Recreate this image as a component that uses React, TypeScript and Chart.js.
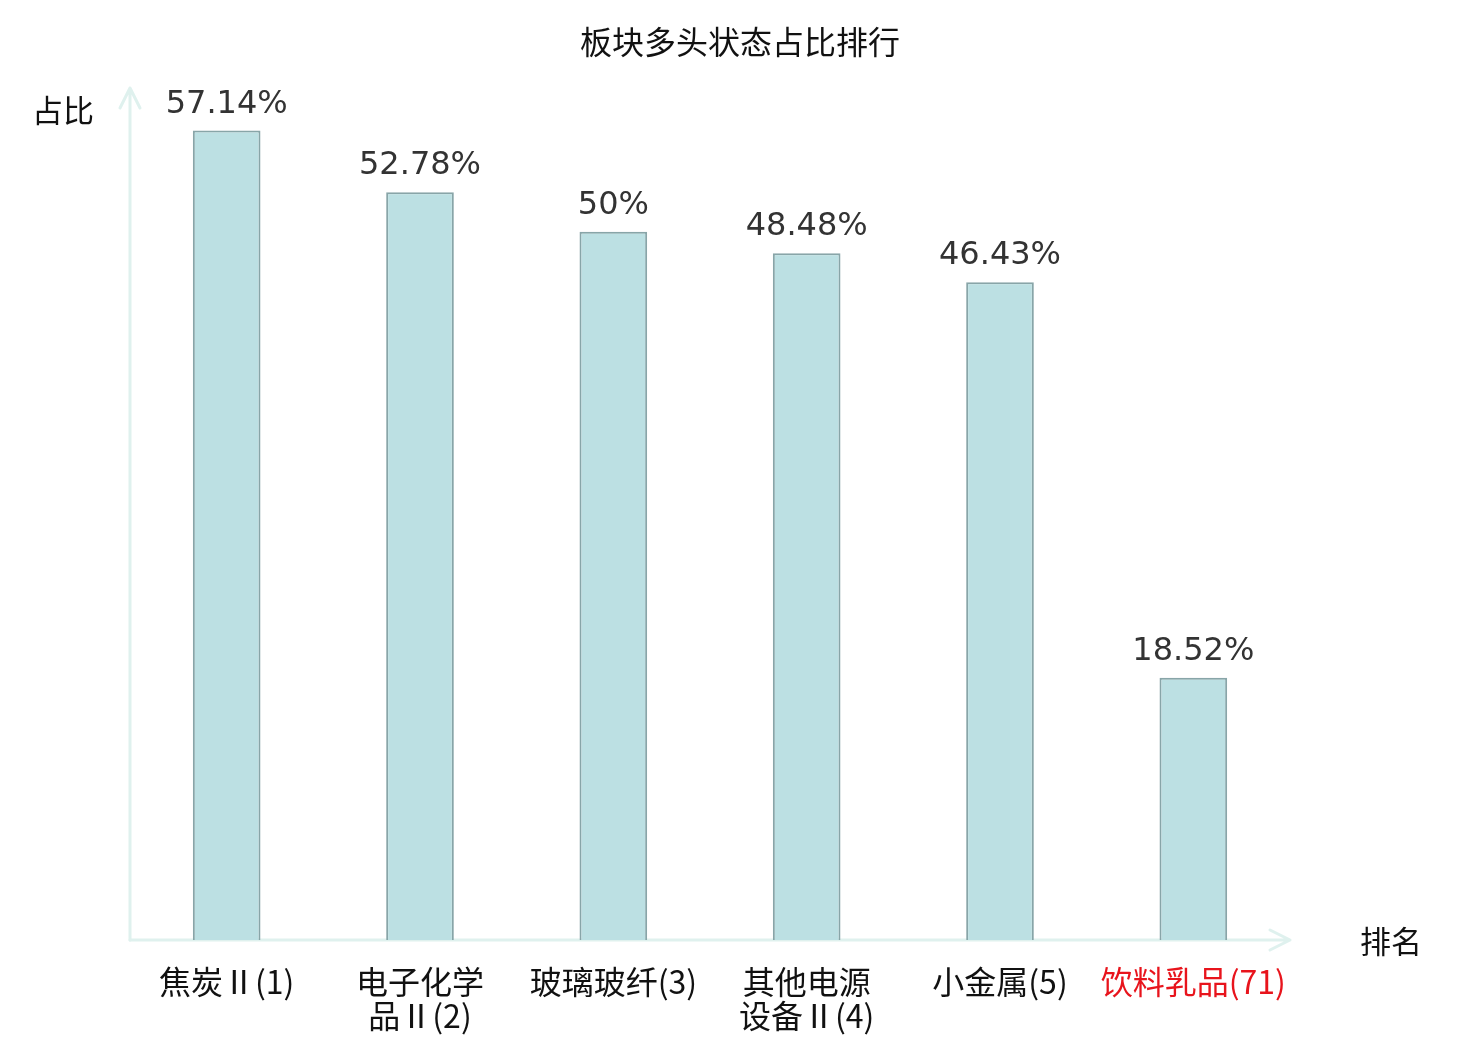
import React, { useEffect, useRef } from 'react';
import { Chart, registerables } from 'chart.js';

Chart.register(...registerables);

const categories: (string | string[])[] = [
  '焦炭Ⅱ(1)',
  ['电子化学', '品Ⅱ(2)'],
  '玻璃玻纤(3)',
  ['其他电源', '设备Ⅱ(4)'],
  '小金属(5)',
  '饮料乳品(71)',
];
const shares = [57.14, 52.78, 50, 48.48, 46.43, 18.52];
const highlighted = [false, false, false, false, false, true];

const TITLE = '板块多头状态占比排行';
const Y_NAME = '占比';
const X_NAME = '排名';

const AXIS_COLOR = '#dff1ee';
const CJK = '"Noto Sans CJK SC", "Noto Sans", sans-serif';

// draws the arrowed axes, the titles and the value labels
const decorations = {
  id: 'decorations',
  beforeDatasetsDraw(chart: Chart) {
    const { ctx, chartArea } = chart;
    const { left, right, top, bottom } = chartArea;
    ctx.save();
    ctx.strokeStyle = AXIS_COLOR;
    ctx.lineWidth = 3;
    ctx.lineCap = 'round';
    ctx.lineJoin = 'round';
    // x axis
    ctx.beginPath();
    ctx.moveTo(left, bottom);
    ctx.lineTo(right, bottom);
    ctx.moveTo(right - 20, bottom - 10);
    ctx.lineTo(right, bottom);
    ctx.lineTo(right - 20, bottom + 10);
    ctx.stroke();
    // y axis
    ctx.beginPath();
    ctx.moveTo(left, bottom);
    ctx.lineTo(left, top - 2);
    ctx.moveTo(left - 10, top + 18);
    ctx.lineTo(left, top - 2);
    ctx.lineTo(left + 10, top + 18);
    ctx.stroke();
    ctx.restore();
  },
  afterDatasetsDraw(chart: Chart) {
    const { ctx, chartArea } = chart;
    ctx.save();
    ctx.fillStyle = '#111';
    ctx.textAlign = 'center';
    ctx.textBaseline = 'middle';
    ctx.font = `32px ${CJK}`;
    ctx.fillText(TITLE, chart.width / 2, 42);
    ctx.font = `31px ${CJK}`;
    ctx.fillText(Y_NAME, 63, 110);
    ctx.fillText(X_NAME, 1391, chartArea.bottom + 1);

    ctx.fillStyle = '#333';
    ctx.font = '32px "DejaVu Sans", sans-serif';
    ctx.textBaseline = 'alphabetic';
    const meta = chart.getDatasetMeta(0);
    meta.data.forEach((bar: any, i: number) => {
      ctx.fillText(`${shares[i]}%`, bar.x, bar.y - 18);
    });
    ctx.restore();
  },
};

const App: React.FC = () => {
  const canvasRef = useRef<HTMLCanvasElement>(null);

  useEffect(() => {
    const ctx = canvasRef.current?.getContext('2d');
    if (!ctx) return;
    const chart = new Chart(ctx, {
      type: 'bar',
      data: {
        labels: categories,
        datasets: [{
          data: shares,
          backgroundColor: '#bce0e3',
          borderColor: '#88a5a8',
          borderWidth: 2,
          barPercentage: 0.35,
          categoryPercentage: 1,
        }],
      },
      options: {
        responsive: true,
        maintainAspectRatio: false,
        animation: false,
        layout: { padding: { left: 130, right: 190, top: 90, bottom: 0 } },
        plugins: {
          legend: { display: false },
          tooltip: { enabled: false },
          title: { display: false },
        },
        scales: {
          x: {
            grid: { display: false },
            border: { display: false },
            afterFit: (scale: any) => { scale.height = 100; },
            ticks: {
              padding: 17,
              maxRotation: 0,
              autoSkip: false,
              color: (c: any) => (highlighted[c.index] ? '#e8141c' : '#111'),
              font: { family: CJK, size: 32, lineHeight: 1.05 },
            },
          },
          y: { display: false, min: 0, max: 60 },
        },
      },
      plugins: [decorations],
    });
    return () => chart.destroy();
  }, []);

  return (
    <div style={{ position: 'fixed', left: 0, top: 0, width: 1480, height: 1040, background: '#fff' }}>
      <canvas ref={canvasRef}></canvas>
    </div>
  );
};

export default App;
